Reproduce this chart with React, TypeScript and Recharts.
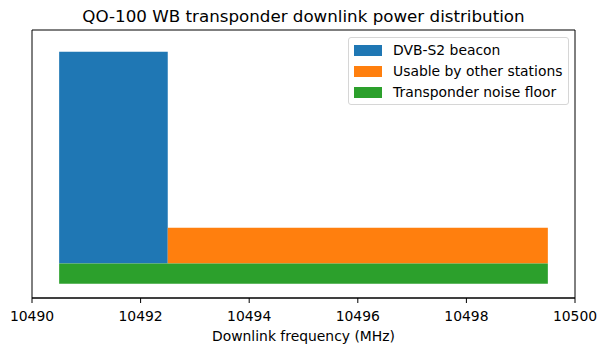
import React from 'react';
import { ComposedChart, XAxis, YAxis, ReferenceArea } from 'recharts';

// Downlink segments of the QO-100 wide-band transponder
const segmentNames = ['DVB-S2 beacon', 'Usable by other stations', 'Transponder noise floor'];
const segmentStartMHz = [10490.5, 10492.5, 10490.5];
const segmentEndMHz = [10492.5, 10499.5, 10499.5];
// relative power level (no scale shown on the figure)
const segmentBottom = [12.9, 12.9, 5.3];
const segmentTop = [91.9, 26.2, 12.9];
const segmentColors = ['#1f77b4', '#ff7f0e', '#2ca02c'];

const freqTicks = [10490, 10492, 10494, 10496, 10498, 10500];
const freqDomain = [10490, 10500];
const levelDomain = [0, 100];

const FONT = '"DejaVu Sans", sans-serif';

export default function App() {
  return (
    <div style={{ position: 'absolute', left: 0, top: 0, width: 606, height: 353, background: '#fff', fontFamily: FONT }}>
      <div style={{ position: 'absolute', left: 32, width: 543, top: 6, textAlign: 'center', fontSize: 16.7, color: '#000', lineHeight: '20px' }}>
        QO-100 WB transponder downlink power distribution
      </div>
      <ComposedChart width={606} height={353} margin={{ top: 30, right: 31, left: 32, bottom: 0 }} data={[]}>
        <XAxis
          type="number"
          dataKey="x"
          domain={freqDomain}
          allowDataOverflow
          ticks={freqTicks}
          tickSize={5}
          tickMargin={8}
          height={55}
          stroke="#000"
          tick={{ fill: '#000', fontSize: 13.9, fontFamily: FONT }}
          label={{ value: 'Downlink frequency (MHz)', position: 'insideBottom', offset: 12, fill: '#000', fontSize: 13.9, fontFamily: FONT }}
        />
        <YAxis type="number" domain={levelDomain} allowDataOverflow width={0} hide />
        {segmentNames.map((name, i) => (
          <ReferenceArea
            key={name}
            x1={segmentStartMHz[i]}
            x2={segmentEndMHz[i]}
            y1={segmentBottom[i]}
            y2={segmentTop[i]}
            fill={segmentColors[i]}
            fillOpacity={1}
            stroke="none"
          />
        ))}
        {/* axes frame */}
        <ReferenceArea
          x1={freqDomain[0]}
          x2={freqDomain[1]}
          y1={levelDomain[0]}
          y2={levelDomain[1]}
          fill="none"
          stroke="#000"
          strokeWidth={1}
          ifOverflow="visible"
        />
      </ComposedChart>
      <div
        style={{
          position: 'absolute', left: 348, top: 37, width: 219, height: 66,
          border: '1px solid #d6d6d6', borderRadius: 3, background: 'rgba(255,255,255,0.8)',
        }}
      >
        {segmentNames.map((name, i) => (
          <div key={name} style={{ position: 'absolute', left: 5, top: 6 + i * 21, height: 12, display: 'flex', alignItems: 'center' }}>
            <span style={{ display: 'inline-block', width: 28, height: 11, background: segmentColors[i] }} />
            <span style={{ marginLeft: 11, fontSize: 13.9, color: '#000', whiteSpace: 'nowrap' }}>{name}</span>
          </div>
        ))}
      </div>
    </div>
  );
}
